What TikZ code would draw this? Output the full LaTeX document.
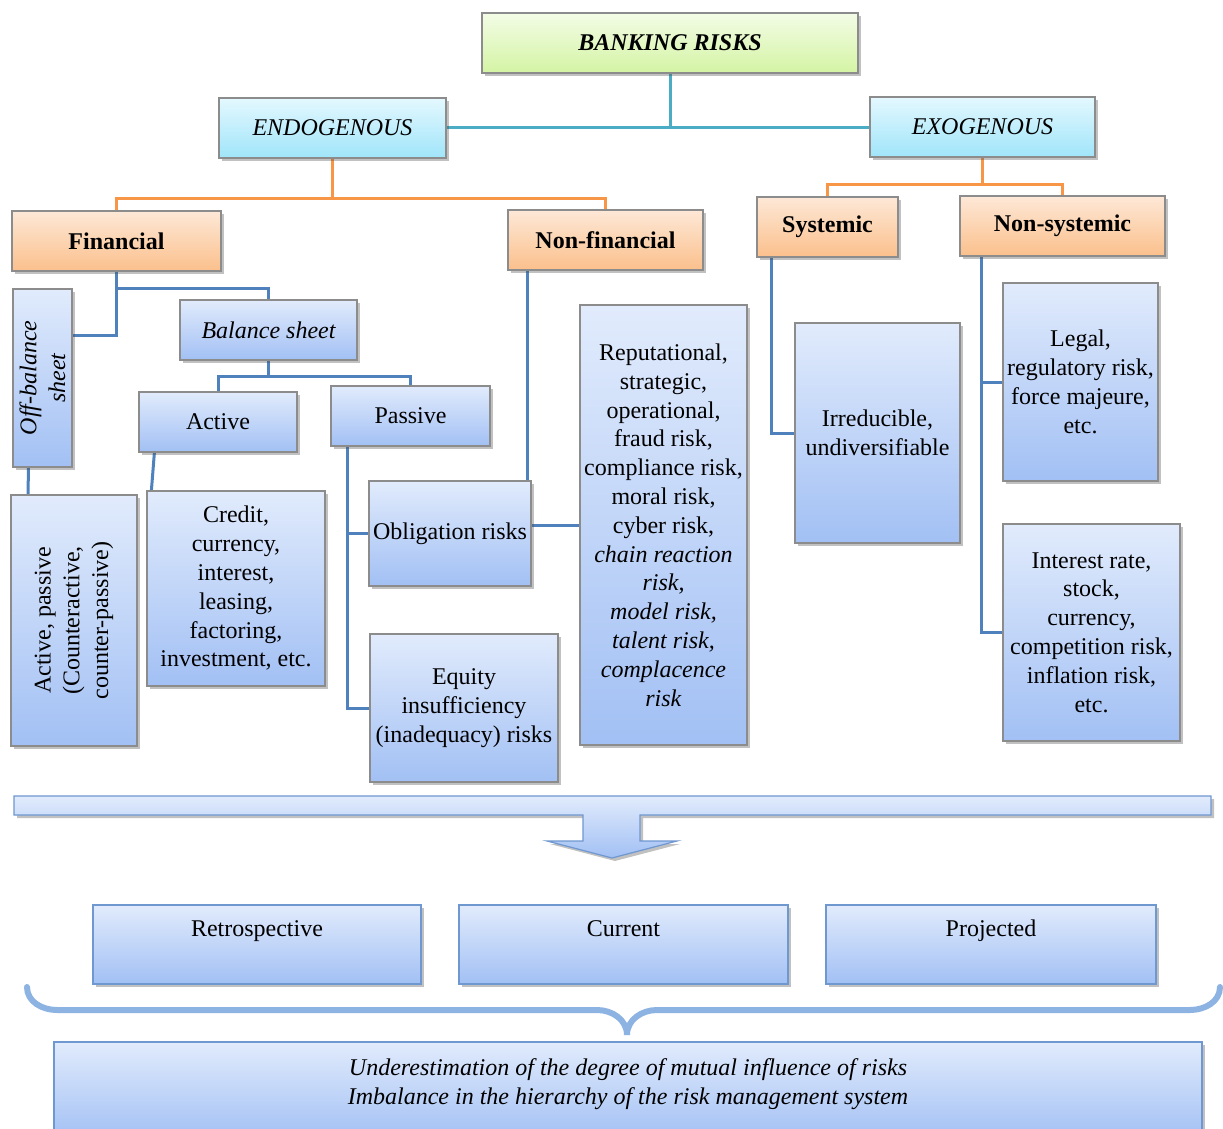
\documentclass[tikz,border=0pt]{standalone}
\usepackage{fontspec}
\setmainfont{Liberation Serif}
\usetikzlibrary{positioning, shadows}

\definecolor{boxgray}{HTML}{8C8C8C}
\definecolor{greentop}{HTML}{F3FCE6}
\definecolor{greenbot}{HTML}{D4F4A4}
\definecolor{cyantop}{HTML}{E4F8FE}
\definecolor{cyanbot}{HTML}{A0E5FA}
\definecolor{orangetop}{HTML}{FDE8D7}
\definecolor{orangebot}{HTML}{FBC08C}
\definecolor{bluetop}{HTML}{E1EBFC}
\definecolor{bluebot}{HTML}{A2C0F4}
\definecolor{barblue}{HTML}{6F97D0}
\definecolor{linkteal}{HTML}{4BACC6}
\definecolor{linkorange}{HTML}{F79646}
\definecolor{linkblue}{HTML}{4F81BD}
\definecolor{braceblue}{HTML}{8DB3E2}

\pgfdeclarelayer{back}
\pgfsetlayers{back,main}

\begin{document}
\begin{tikzpicture}[x=0.5pt, y=-0.5pt,
    box/.style={rectangle, draw=boxgray, line width=0.6pt, inner sep=1pt, align=center,
        font=\fontsize{12}{14.4}\selectfont,
        drop shadow={shadow xshift=1.5pt, shadow yshift=-1.5pt, opacity=0.35, fill=black!70}},
    rootbox/.style={box, top color=greentop, bottom color=greenbot, font=\fontsize{12}{14.4}\selectfont\bfseries\itshape},
    sidebox/.style={box, top color=cyantop, bottom color=cyanbot, font=\fontsize{12}{14.4}\selectfont\itshape},
    kindbox/.style={box, top color=orangetop, bottom color=orangebot, font=\fontsize{12}{14.4}\selectfont\bfseries},
    riskbox/.style={box, top color=bluetop, bottom color=bluebot},
    levelbox/.style={riskbox, draw=barblue},
    turned/.style={rotate=90, align=center, font=\fontsize{12}{14.4}\selectfont},
    tealline/.style={draw=linkteal, line width=1.5pt},
    orangeline/.style={draw=linkorange, line width=1.5pt},
    blueline/.style={draw=linkblue, line width=1.5pt}
]
\useasboundingbox (0,0) rectangle (1223,1129);

% top levels
\node[rootbox, minimum width=188pt, minimum height=30pt] (banking) at (670,43) {BANKING RISKS};
\node[sidebox, minimum width=113.5pt, minimum height=30pt] (endo) at (332.5,128) {ENDOGENOUS};
\node[sidebox, minimum width=112.5pt, minimum height=30pt] (exo) at (982.5,127) {EXOGENOUS};

\node[kindbox, minimum width=104.5pt, minimum height=30pt] (fin) at (116.5,241) {Financial};
\node[kindbox, minimum width=97.5pt, minimum height=30pt] (nonfin) at (605.5,240) {Non-financial};
\node[kindbox, minimum width=70.5pt, minimum height=30pt] (sys) at (827.5,227) {Systemic};
\node[kindbox, minimum width=102.5pt, minimum height=30pt] (nonsys) at (1062.5,226) {Non-systemic};

% financial branch
\node[riskbox, minimum width=29.5pt, minimum height=89pt,
    label={[turned, font=\fontsize{12}{14.4}\selectfont\itshape]center:{Off-balance\\sheet}}] (offbal) at (42.5,378) {};
\node[riskbox, minimum width=63pt, minimum height=125.5pt,
    label={[turned]center:{Active, passive\\(Counteractive,\\counter-passive)}}] (actpas) at (74,620.5) {};
\node[riskbox, minimum width=88.5pt, minimum height=30pt, font=\fontsize{12}{14.4}\selectfont\itshape] (bal) at (268.5,330) {Balance sheet};
\node[riskbox, minimum width=79pt, minimum height=30pt] (active) at (218,422) {Active};
\node[riskbox, minimum width=79.5pt, minimum height=30pt] (passive) at (410.5,416) {Passive};
\node[riskbox, minimum width=89pt, minimum height=97.5pt] (credit) at (236,588.5)
    {Credit,\\currency,\\interest,\\leasing,\\factoring,\\investment, etc.};
\node[riskbox, minimum width=81pt, minimum height=52.5pt] (oblig) at (450,533.5) {Obligation risks};
\node[riskbox, minimum width=94pt, minimum height=74pt] (equity) at (464,708)
    {Equity\\insufficiency\\(inadequacy) risks};

% non-financial, systemic, non-systemic
\node[riskbox, minimum width=83.5pt, minimum height=220pt] (reput) at (663.5,525)
    {Reputational,\\strategic,\\operational,\\fraud risk,\\compliance risk,\\moral risk,\\cyber risk,\\
     \textit{chain reaction}\\\textit{risk,}\\\textit{model risk,}\\\textit{talent risk,}\\\textit{complacence}\\\textit{risk}};
\node[riskbox, minimum width=82.5pt, minimum height=110pt] (irred) at (877.5,433) {Irreducible,\\undiversifiable};
\node[riskbox, minimum width=77.5pt, minimum height=99pt] (legal) at (1080.5,382)
    {Legal,\\regulatory risk,\\force majeure,\\etc.};
\node[riskbox, minimum width=88.5pt, minimum height=108.5pt] (interest) at (1091.5,632.5)
    {Interest rate,\\stock,\\currency,\\competition risk,\\inflation risk,\\etc.};

% bar with arrow
\path[draw=barblue, line width=0.6pt, top color=bluetop, bottom color=bluebot,
    drop shadow={shadow xshift=1.5pt, shadow yshift=-1.5pt, opacity=0.35, fill=black!70}]
    (14,796) -- (1211,796) -- (1211,815) -- (640,815) -- (640,841) -- (677,841) -- (612,858)
    -- (547,841) -- (583,841) -- (583,815) -- (14,815) -- cycle;

% time levels
\node[levelbox, minimum width=164pt, minimum height=39.5pt,
    label={[anchor=base, yshift=-16pt, font=\fontsize{12}{14.4}\selectfont]north:Retrospective}] (retro) at (257,944.5) {};
\node[levelbox, minimum width=164.5pt, minimum height=39.5pt,
    label={[anchor=base, yshift=-16pt, font=\fontsize{12}{14.4}\selectfont]north:Current}] (current) at (623.5,944.5) {};
\node[levelbox, minimum width=165pt, minimum height=39.5pt,
    label={[anchor=base, yshift=-16pt, font=\fontsize{12}{14.4}\selectfont]north:Projected}] (projected) at (991,944.5) {};

\draw[draw=braceblue, line width=3pt, line cap=round]
    (27,987) to[out=-90, in=180] (57,1010) -- (597,1010) to[out=0, in=90] (627,1035)
    to[out=90, in=180] (657,1010) -- (1190,1010) to[out=0, in=-90] (1220,987);

\node[levelbox, minimum width=574pt, minimum height=49pt,
    label={[anchor=center, yshift=-21.5pt, align=center, font=\fontsize{12}{14.4}\selectfont\itshape]north:{Underestimation of the degree of mutual influence of risks\\Imbalance in the hierarchy of the risk management system}}]
    (summary) at (628,1091) {};

% connectors
\begin{pgfonlayer}{back}
\draw[tealline] (banking.south) -- (banking.south |- endo.east);
\draw[tealline] (endo.east) -- (endo.east -| exo.west);

\coordinate (endojoin) at (332.5,199);
\draw[orangeline] (endo.south) -- (endojoin) -| (fin.north);
\draw[orangeline] (endojoin) -| (nonfin.north);
\coordinate (exojoin) at (982.5,185);
\draw[orangeline] (exo.south) -- (exojoin) -| (sys.north);
\draw[orangeline] (exojoin) -| (nonsys.north);

\coordinate (finjoin) at (116.5,289);
\draw[blueline] (fin.south) -- (finjoin) -| (bal.north);
\draw[blueline] (finjoin) |- ([yshift=-23.5pt]offbal.north east);
\draw[blueline] ([xshift=-7pt]offbal.south) -- ([xshift=-23pt]actpas.north);
\coordinate (baljoin) at (268.5,376);
\draw[blueline] (bal.south) -- (baljoin) -| (active.north);
\draw[blueline] (baljoin) -| (passive.north);
\draw[blueline] ([xshift=8pt]active.south west) -- ([xshift=2.5pt]credit.north west);
\coordinate (passdown) at ([xshift=8.5pt]passive.south west);
\draw[blueline] (passdown) |- (equity.west);
\draw[blueline] (passdown |- oblig.west) -- (oblig.west);
\coordinate (nfdown) at ([xshift=10pt]nonfin.south west);
\draw[blueline] (nfdown) |- (reput.west);
\draw[blueline] ([xshift=7.5pt]sys.south west) |- (irred.west);
\coordinate (nsdown) at ([xshift=11pt]nonsys.south west);
\draw[blueline] (nsdown) |- (interest.west);
\draw[blueline] (nsdown |- legal.west) -- (legal.west);
\end{pgfonlayer}

\end{tikzpicture}
\end{document}
